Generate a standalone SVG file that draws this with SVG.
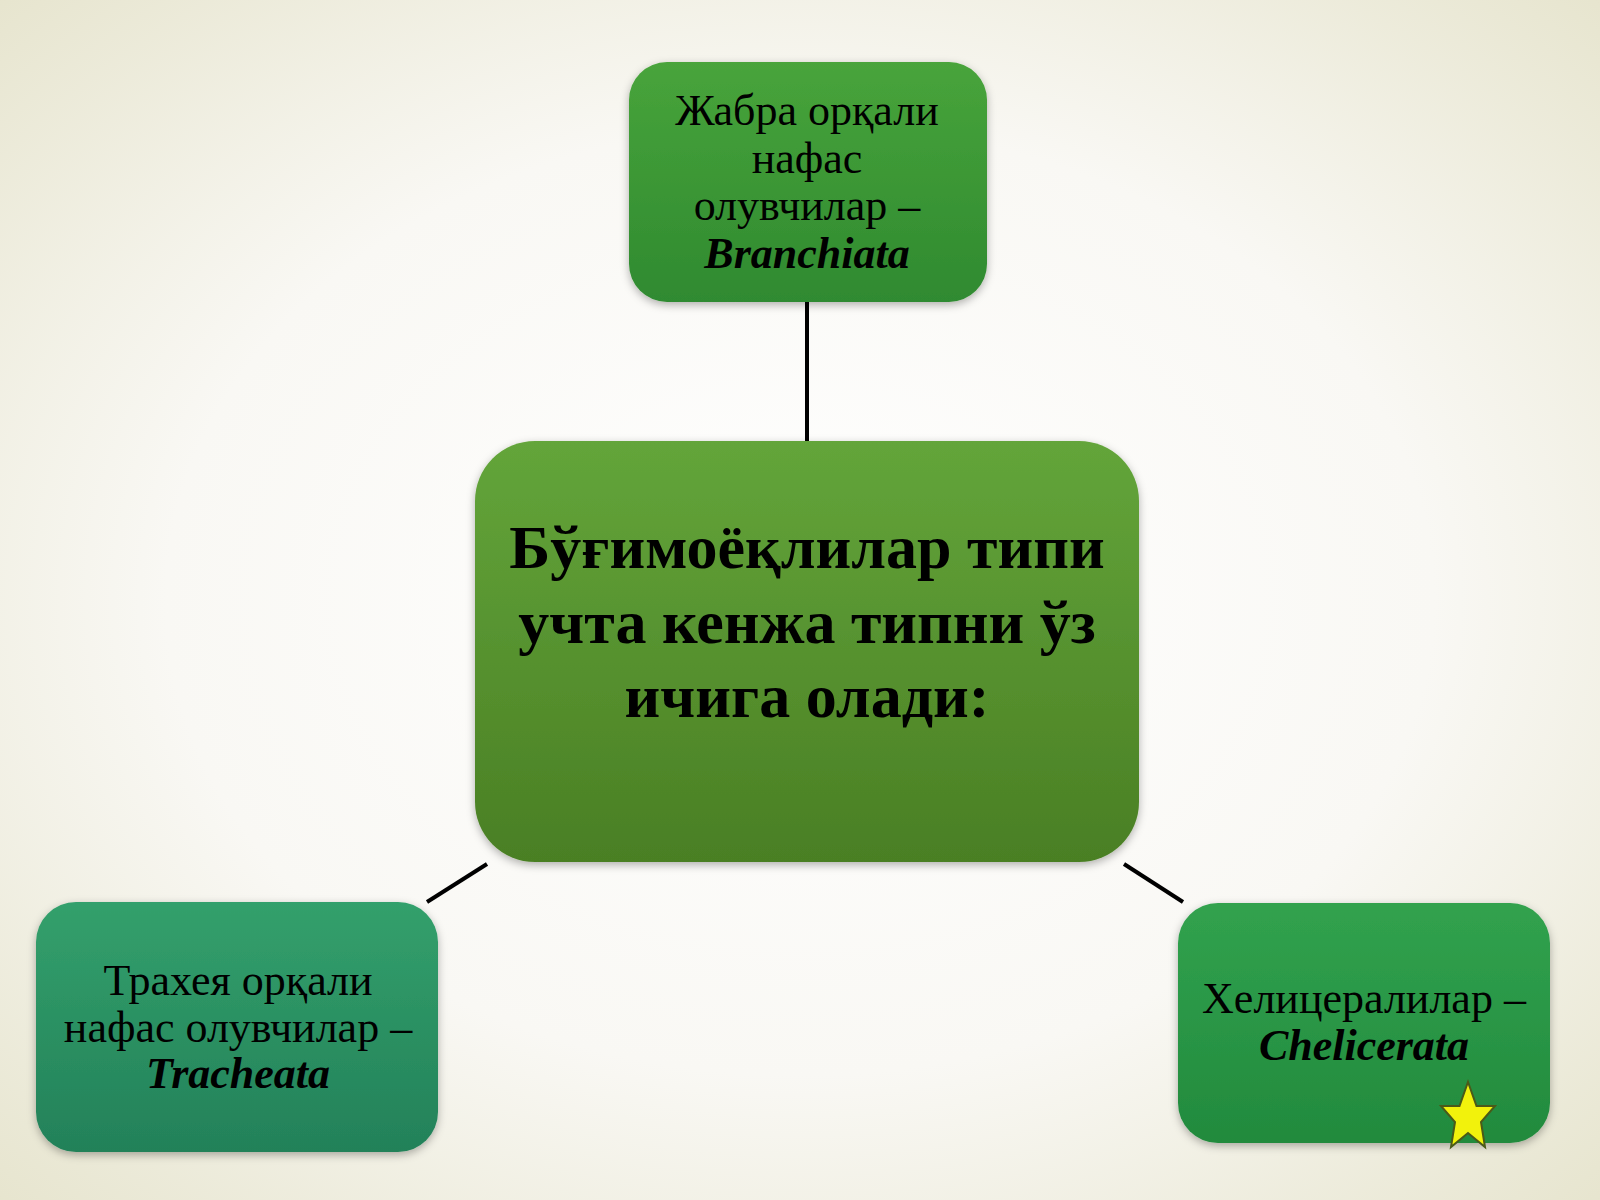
<svg xmlns="http://www.w3.org/2000/svg" width="1600" height="1200" viewBox="0 0 1600 1200">
<defs>
<radialGradient id="bg" cx="50%" cy="50%" r="72%">
<stop offset="0" stop-color="#ffffff"/>
<stop offset="0.55" stop-color="#f9f8f4"/>
<stop offset="1" stop-color="#e6e4cd"/>
</radialGradient>
<linearGradient id="gTop" x1="0" y1="0" x2="0" y2="1">
<stop offset="0" stop-color="#48a43b"/>
<stop offset="1" stop-color="#2f8a30"/>
</linearGradient>
<linearGradient id="gCenter" x1="0" y1="0" x2="0" y2="1">
<stop offset="0" stop-color="#63a53a"/>
<stop offset="1" stop-color="#4a7f24"/>
</linearGradient>
<linearGradient id="gLeft" x1="0" y1="0" x2="0" y2="1">
<stop offset="0" stop-color="#33a06c"/>
<stop offset="1" stop-color="#238159"/>
</linearGradient>
<linearGradient id="gRight" x1="0" y1="0" x2="0" y2="1">
<stop offset="0" stop-color="#31a24e"/>
<stop offset="1" stop-color="#228a3d"/>
</linearGradient>
<filter id="sh" x="-10%" y="-10%" width="120%" height="125%">
<feDropShadow dx="0" dy="3" stdDeviation="4" flood-color="#000" flood-opacity="0.3"/>
</filter>
<style>
.t{font-family:"Liberation Serif","Times New Roman",serif;fill:#000;text-anchor:middle}
.s{font-size:44px}
.b{font-weight:bold;font-style:italic}
.c{font-size:62px;font-weight:bold}
.con{stroke:#000;stroke-width:4;fill:none}
</style>
</defs>
<rect width="1600" height="1200" fill="url(#bg)"/>
<g id="connectors">
<line class="con" x1="807" y1="302" x2="807" y2="441"/>
<line class="con" x1="487" y1="864" x2="427" y2="902"/>
<line class="con" x1="1124" y1="864" x2="1183" y2="902"/>
</g>
<g id="top">
<rect x="629" y="62" width="358" height="240" rx="38" fill="url(#gTop)" filter="url(#sh)"/>
<text class="t s" x="807" y="125">Жабра орқали</text>
<text class="t s" x="807" y="173">нафас</text>
<text class="t s" x="807" y="220">олувчилар –</text>
<text class="t s b" x="807" y="268">Branchiata</text>
</g>
<g id="center">
<rect x="475" y="441" width="664" height="421" rx="60" fill="url(#gCenter)" filter="url(#sh)"/>
<text class="t c" x="807" y="568">Бўғимоёқлилар типи</text>
<text class="t c" x="807" y="643">учта кенжа типни ўз</text>
<text class="t c" x="807" y="717">ичига олади:</text>
</g>
<g id="left">
<rect x="36" y="902" width="402" height="250" rx="40" fill="url(#gLeft)" filter="url(#sh)"/>
<text class="t s" x="238" y="995">Трахея орқали</text>
<text class="t s" x="238" y="1042">нафас олувчилар –</text>
<text class="t s b" x="238" y="1088">Tracheata</text>
</g>
<g id="right">
<rect x="1178" y="903" width="372" height="240" rx="40" fill="url(#gRight)" filter="url(#sh)"/>
<text class="t s" x="1364" y="1013">Хелицералилар –</text>
<text class="t s b" x="1364" y="1060">Chelicerata</text>
</g>
<g id="star">
<polygon points="1468,1082 1476.5,1106 1495,1106 1481,1122 1485,1147 1468,1133 1451,1147 1455,1122 1441,1106 1459.5,1106" fill="#f2f20c" stroke="#4a5a18" stroke-width="2" stroke-linejoin="miter"/>
</g>
</svg>
